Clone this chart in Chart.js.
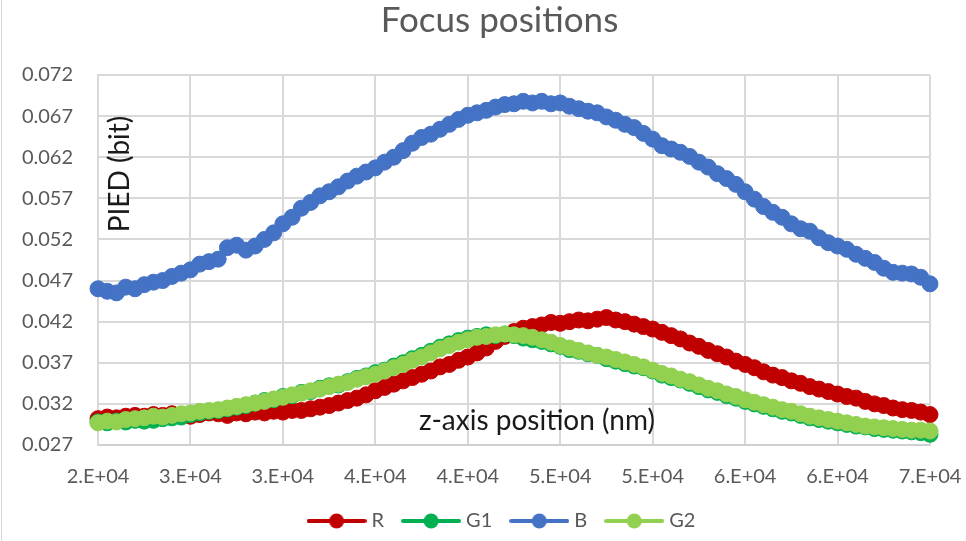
<!DOCTYPE html>
<html><head><meta charset="utf-8">
<script src="https://cdn.jsdelivr.net/npm/chart.js@4.4.1/dist/chart.umd.min.js"></script>
<style>
html,body{margin:0;padding:0;background:#fff;}
#wrap{position:relative;width:966px;height:541px;overflow:hidden;}
#edge{position:absolute;left:1px;top:0;width:1px;height:541px;background:#d9d9d9;}
</style></head><body>
<div id="wrap"><canvas id="c" width="966" height="541"></canvas><div id="edge"></div></div>
<script>
const chartTitle = 'Focus positions';
const xTitle = 'z-axis position (nm)';
const yTitle = 'PIED (bit)';
const seriesNames = ['R', 'G1', 'B', 'G2'];

const zPositions = [
20000,20500,21000,21500,22000,22500,23000,23500,24000,24500,
25000,25500,26000,26500,27000,27500,28000,28500,29000,29500,
30000,30500,31000,31500,32000,32500,33000,33500,34000,34500,
35000,35500,36000,36500,37000,37500,38000,38500,39000,39500,
40000,40500,41000,41500,42000,42500,43000,43500,44000,44500,
45000,45500,46000,46500,47000,47500,48000,48500,49000,49500,
50000,50500,51000,51500,52000,52500,53000,53500,54000,54500,
55000,55500,56000,56500,57000,57500,58000,58500,59000,59500,
60000,60500,61000,61500,62000,62500,63000,63500,64000,64500,
65000];

const valuesR = [
0.0302,0.0304,0.0303,0.0305,0.0306,0.0305,0.0307,0.0306,0.0308,0.0306,
0.0305,0.0307,0.0309,0.0308,0.0306,0.0309,0.0308,0.0310,0.0309,0.0311,
0.0310,0.0312,0.0312,0.0314,0.0316,0.0318,0.0321,0.0324,0.0327,0.0331,
0.0336,0.0340,0.0344,0.0348,0.0352,0.0356,0.0360,0.0365,0.0368,0.0373,
0.0377,0.0382,0.0388,0.0396,0.0402,0.0408,0.0412,0.0414,0.0416,0.0419,
0.0418,0.0420,0.0422,0.0421,0.0423,0.0425,0.0422,0.0420,0.0417,0.0414,
0.0411,0.0407,0.0403,0.0399,0.0394,0.0390,0.0385,0.0381,0.0377,0.0372,
0.0368,0.0364,0.0359,0.0355,0.0352,0.0348,0.0345,0.0341,0.0338,0.0335,
0.0332,0.0329,0.0327,0.0323,0.0320,0.0318,0.0315,0.0313,0.0312,0.0310,
0.0307];

const valuesG1 = [
0.0298,0.0297,0.0299,0.0298,0.0300,0.0299,0.0300,0.0302,0.0303,0.0304,
0.0307,0.0309,0.0311,0.0312,0.0314,0.0316,0.0318,0.0321,0.0324,0.0325,
0.0329,0.0330,0.0334,0.0335,0.0339,0.0342,0.0343,0.0347,0.0351,0.0354,
0.0358,0.0361,0.0366,0.0370,0.0375,0.0379,0.0384,0.0389,0.0393,0.0397,
0.0400,0.0402,0.0404,0.0403,0.0405,0.0403,0.0400,0.0398,0.0396,0.0393,
0.0390,0.0386,0.0384,0.0381,0.0379,0.0375,0.0372,0.0369,0.0366,0.0364,
0.0360,0.0355,0.0352,0.0349,0.0345,0.0341,0.0337,0.0334,0.0330,0.0327,
0.0323,0.0320,0.0317,0.0314,0.0311,0.0309,0.0306,0.0303,0.0301,0.0299,
0.0297,0.0295,0.0293,0.0292,0.0290,0.0289,0.0288,0.0287,0.0286,0.0285,
0.0283];

const valuesB = [
0.0460,0.0457,0.0455,0.0462,0.0460,0.0465,0.0468,0.0470,0.0475,0.0479,
0.0483,0.0490,0.0493,0.0496,0.0510,0.0513,0.0507,0.0512,0.0520,0.0528,
0.0539,0.0547,0.0558,0.0565,0.0573,0.0578,0.0584,0.0591,0.0597,0.0602,
0.0607,0.0614,0.0620,0.0628,0.0637,0.0644,0.0648,0.0654,0.0660,0.0666,
0.0671,0.0674,0.0677,0.0681,0.0684,0.0685,0.0688,0.0686,0.0688,0.0685,
0.0686,0.0682,0.0679,0.0676,0.0674,0.0669,0.0665,0.0660,0.0656,0.0649,
0.0642,0.0634,0.0630,0.0626,0.0621,0.0614,0.0608,0.0600,0.0594,0.0587,
0.0578,0.0569,0.0560,0.0553,0.0547,0.0539,0.0533,0.0530,0.0522,0.0516,
0.0512,0.0508,0.0502,0.0497,0.0492,0.0485,0.0480,0.0479,0.0478,0.0474,
0.0466];

const valuesG2 = [
0.0297,0.0299,0.0298,0.0301,0.0302,0.0303,0.0305,0.0304,0.0306,0.0308,
0.0309,0.0311,0.0312,0.0313,0.0315,0.0317,0.0319,0.0321,0.0323,0.0326,
0.0328,0.0331,0.0333,0.0336,0.0338,0.0341,0.0344,0.0346,0.0350,0.0353,
0.0356,0.0360,0.0364,0.0368,0.0373,0.0377,0.0382,0.0387,0.0391,0.0395,
0.0398,0.0401,0.0402,0.0404,0.0405,0.0404,0.0403,0.0401,0.0398,0.0395,
0.0391,0.0388,0.0385,0.0382,0.0379,0.0377,0.0374,0.0371,0.0368,0.0365,
0.0361,0.0357,0.0354,0.0350,0.0347,0.0343,0.0339,0.0336,0.0332,0.0329,
0.0325,0.0322,0.0319,0.0316,0.0313,0.0311,0.0308,0.0305,0.0303,0.0301,
0.0299,0.0297,0.0295,0.0293,0.0292,0.0291,0.0290,0.0289,0.0288,0.0288,
0.0287];

const yTicks = [0.027,0.032,0.037,0.042,0.047,0.052,0.057,0.062,0.067,0.072];
const yTickLabels = ['0.027','0.032','0.037','0.042','0.047','0.052','0.057','0.062','0.067','0.072'];
const xTicks = [20000,25000,30000,35000,40000,45000,50000,55000,60000,65000];
const xTickLabels = ['2.E+04','3.E+04','3.E+04','4.E+04','4.E+04','5.E+04','5.E+04','6.E+04','6.E+04','7.E+04'];

const seriesColors = ['#C00000', '#00B050', '#4472C4', '#92D050'];
const allValues = [valuesR, valuesG1, valuesB, valuesG2];

function toPoints(vals) { return zPositions.map((z, i) => ({x: z, y: vals[i]})); }

function makeIcon(color) {
  const cv = document.createElement('canvas');
  cv.width = 60; cv.height = 18;
  const g = cv.getContext('2d');
  g.strokeStyle = color; g.lineWidth = 4; g.lineCap = 'round';
  g.beginPath(); g.moveTo(2, 9); g.lineTo(58, 9); g.stroke();
  g.fillStyle = color;
  g.beginPath(); g.arc(30, 9, 7.5, 0, Math.PI * 2); g.fill();
  return cv;
}
const icons = seriesColors.map(makeIcon);

Chart.defaults.font.family = 'Lato, "Open Sans", sans-serif';

const datasets = seriesNames.map((name, i) => ({
  label: name,
  data: toPoints(allValues[i]),
  borderColor: seriesColors[i],
  backgroundColor: seriesColors[i],
  pointBackgroundColor: seriesColors[i],
  pointBorderColor: seriesColors[i],
  borderWidth: 4,
  pointRadius: 8,
  pointBorderWidth: 1,
  pointHoverRadius: 8,
  showLine: true,
  tension: 0,
  clip: false,
  order: 4 - i
}));

const overlayTitles = {
  id: 'overlayTitles',
  afterLayout(chart) {
    chart.titleBlock.left += 34.5; chart.titleBlock.right += 34.5;
    chart.legend.left += 38.5; chart.legend.right += 38.5;
  },
  afterDraw(chart) {
    const {ctx, chartArea: a} = chart;
    ctx.save();
    ctx.fillStyle = '#1a1a1a';
    ctx.font = '28px Lato, "Open Sans", sans-serif';
    ctx.textAlign = 'center';
    ctx.textBaseline = 'middle';
    ctx.fillText(xTitle, a.left + (a.right - a.left) * 0.5276, a.bottom - 24);
    ctx.translate(a.left + 22, a.top + 99);
    ctx.rotate(-Math.PI / 2);
    ctx.fillText(yTitle, 0, 0);
    ctx.restore();
  }
};

new Chart(document.getElementById('c'), {
  type: 'scatter',
  data: { datasets },
  plugins: [overlayTitles],
  options: {
    responsive: false,
    animation: false,
    events: [],
    layout: { padding: { left: 0, right: 36, top: 0, bottom: 0 } },
    plugins: {
      title: {
        display: true, text: chartTitle, color: '#595959',
        font: { size: 35, weight: 'normal' },
        padding: { top: 0, bottom: 33 }
      },
      legend: {
        display: true, position: 'bottom',
        labels: {
          usePointStyle: true, pointStyleWidth: 50, padding: 22,
          color: '#595959', font: { size: 20 },
          sort: (a, b) => a.datasetIndex - b.datasetIndex,
          generateLabels(chart) {
            const items = Chart.defaults.plugins.legend.labels.generateLabels(chart);
            items.forEach(it => { it.pointStyle = icons[it.datasetIndex]; });
            return items;
          }
        }
      },
      tooltip: { enabled: false }
    },
    scales: {
      x: {
        type: 'linear', min: 20000, max: 65000,
        afterFit(s) { s.height = 44; s.paddingRight = 0; s.paddingLeft = 0; },
        afterBuildTicks(s) { s.ticks = xTicks.map(v => ({value: v})); },
        ticks: {
          color: '#595959', font: { size: 20 }, padding: 20, maxRotation: 0, autoSkip: false,
          callback: (v, i) => xTickLabels[i]
        },
        grid: { color: '#d9d9d9', lineWidth: 2, drawTicks: false },
        border: { color: '#d0d0d0', width: 2 }
      },
      y: {
        type: 'linear', min: 0.027, max: 0.072,
        afterFit(s) { s.width = 98; },
        afterBuildTicks(s) { s.ticks = yTicks.map(v => ({value: v})); },
        ticks: {
          color: '#595959', font: { size: 20 }, padding: 25, autoSkip: false,
          callback: (v, i) => yTickLabels[i]
        },
        grid: { color: '#d9d9d9', lineWidth: 2, drawTicks: false },
        border: { color: '#d9d9d9', width: 2 }
      }
    }
  }
});
</script>
</body></html>
